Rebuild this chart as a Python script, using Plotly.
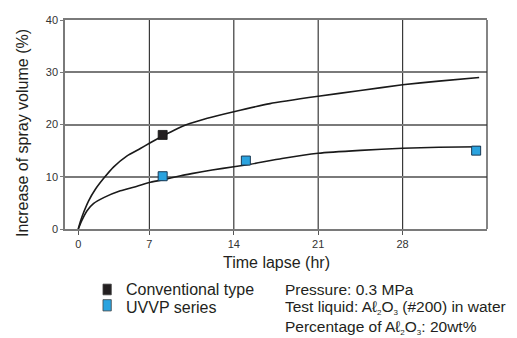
import plotly.graph_objects as go

# ---- data ----
conv_curve_x = [1.1, 1.27, 1.55, 1.96, 2.52, 3.21, 4.04, 5.15, 6.25, 7.0, 8.1, 9.3, 10.0, 11.8, 14.0,
                17.0, 21.0, 24.5, 28.0, 31.0, 34.35]
conv_curve_y = [0.0, 1.4, 3.2, 5.4, 7.6, 9.7, 11.9, 14.0, 15.4, 16.4, 17.8, 19.2, 19.9, 21.2, 22.45,
                24.0, 25.4, 26.5, 27.6, 28.3, 29.0]
uvvp_curve_x = [1.1, 1.41, 1.83, 2.38, 3.21, 4.59, 5.98, 7.0, 8.1, 9.6, 10.5, 12.2, 14.0, 15.4,
                18.0, 21.0, 24.5, 28.0, 31.0, 34.5]
uvvp_curve_y = [0.0, 1.7, 3.5, 4.9, 6.0, 7.3, 8.2, 8.9, 9.4, 10.2, 10.6, 11.3, 11.9, 12.4,
                13.5, 14.5, 15.05, 15.45, 15.65, 15.75]
conv_pts_x = [8.1]
conv_pts_y = [18.0]
uvvp_pts_x = [8.1, 15.0, 34.1]
uvvp_pts_y = [10.1, 13.1, 15.0]

x_tick_vals = [1.1, 7, 14, 21, 28]
x_tick_text = ["0", "7", "14", "21", "28"]
x_grid_vals = [7, 14, 21, 28]
y_tick_vals = [0, 10, 20, 30, 40]

legend_names = ["Conventional type", "UVVP series"]
legend_colors = ["#231f20", "#2aa3df"]

def sub(d):
    return '<sub><span style="font-size:8px">%s</span></sub>' % d

AL2O3 = "Aℓ" + sub("2") + "O" + sub("3")
note_lines = [
    "Pressure: 0.3 MPa",
    "Test liquid: " + AL2O3 + " (#200) in water",
    "Percentage of " + AL2O3 + ": 20wt%",
]

FONT = "Liberation Sans, Arial, Helvetica, sans-serif"

fig = go.Figure()
for cx, cy in [(conv_curve_x, conv_curve_y), (uvvp_curve_x, uvvp_curve_y)]:
    fig.add_trace(go.Scatter(x=cx, y=cy, mode="lines",
                             line=dict(color="#1a1a1a", width=1.6, shape="spline", smoothing=0.5),
                             showlegend=False, hoverinfo="skip"))
fig.add_trace(go.Scatter(x=conv_pts_x, y=conv_pts_y, mode="markers", name=legend_names[0],
                         marker=dict(symbol="square", size=9, color=legend_colors[0],
                                     line=dict(color="#111111", width=0.8)),
                         showlegend=False))
fig.add_trace(go.Scatter(x=uvvp_pts_x, y=uvvp_pts_y, mode="markers", name=legend_names[1],
                         marker=dict(symbol="square", size=9, color=legend_colors[1],
                                     line=dict(color="#1a3a55", width=1)),
                         showlegend=False))

shapes = []
for v in x_grid_vals:
    shapes.append(dict(type="line", xref="x", yref="paper", x0=v, x1=v, y0=0, y1=1,
                       line=dict(color="#3a3a3a", width=1.2), layer="below"))
# right border
shapes.append(dict(type="line", xref="paper", yref="paper", x0=1, x1=1, y0=0, y1=1,
                   line=dict(color="#333333", width=1.2)))

# legend squares
leg_y = [(-0.2637, -0.3149), (-0.338, -0.392)]
for (y1, y0), col in zip(leg_y, legend_colors):
    shapes.append(dict(type="rect", xref="paper", yref="paper", x0=0.090, x1=0.1097, y0=y0, y1=y1,
                       fillcolor=col, line=dict(color="#444444", width=0.8)))

annotations = []
leg_text_y = [-0.2907, -0.376]
for name, yy in zip(legend_names, leg_text_y):
    annotations.append(dict(text=name, xref="paper", yref="paper", x=0.1405, y=yy,
                            xanchor="left", yanchor="middle", showarrow=False,
                            font=dict(family=FONT, size=16, color="#231f20")))
note_y = [-0.2916, -0.3767, -0.4698]
for txt, yy in zip(note_lines, note_y):
    annotations.append(dict(text=txt, xref="paper", yref="paper", x=0.5166, y=yy,
                            xanchor="left", yanchor="middle", showarrow=False,
                            font=dict(family=FONT, size=15.5, color="#231f20")))
# axis titles
annotations.append(dict(text="Time lapse (hr)", xref="paper", yref="paper", x=0.5, y=-0.158,
                        xanchor="center", yanchor="middle", showarrow=False,
                        font=dict(family=FONT, size=16, color="#231f20")))
annotations.append(dict(text="Increase of spray volume (%)", xref="paper", yref="paper",
                        x=-0.1012, y=0.4605, xanchor="center", yanchor="middle",
                        textangle=-90, showarrow=False,
                        font=dict(family=FONT, size=16, color="#231f20")))

# page body has an 8px margin: shrink the figure and margins so the plot lands in place
fig.update_layout(
    width=509, height=330,
    margin=dict(l=57, r=30, t=6, b=109),
    paper_bgcolor="white", plot_bgcolor="white",
    font=dict(family=FONT, size=11, color="#333333"),
    shapes=shapes, annotations=annotations, showlegend=False,
)
fig.update_xaxes(range=[0, 35], tickmode="array", tickvals=x_tick_vals, ticktext=x_tick_text,
                 showgrid=False, zeroline=False, showline=True, linecolor="#7a7a7a", linewidth=1.5,
                 mirror=True, ticks="outside", ticklen=4, tickcolor="#555555", tickwidth=1,
                 tickfont=dict(family=FONT, size=11, color="#333333"), fixedrange=True)
fig.update_yaxes(range=[0, 40], tickmode="array", tickvals=y_tick_vals,
                 showgrid=True, gridcolor="#7a7a7a", gridwidth=1.5, zeroline=False,
                 showline=True, linecolor="#7a7a7a", linewidth=1.5,
                 ticks="outside", ticklen=3, tickcolor="#7a7a7a",
                 tickfont=dict(family=FONT, size=11, color="#333333"), fixedrange=True)

fig.write_html("out.html")
